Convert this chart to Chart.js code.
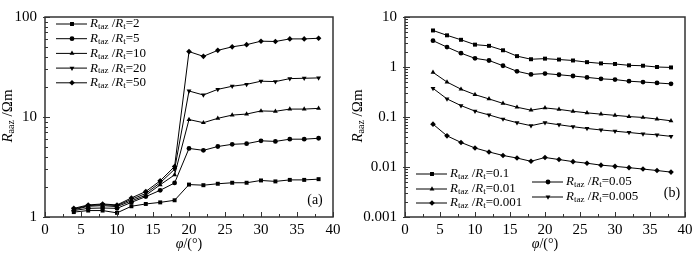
<!DOCTYPE html>
<html>
<head>
<meta charset="utf-8">
<script src="https://cdn.jsdelivr.net/npm/chart.js@4/dist/chart.umd.min.js"></script>
<style>
body { margin: 0; background: #fff; }
#wrap { position: relative; width: 700px; height: 253px; }
canvas { position: absolute; top: 0; }
#chartA { left: 0; }
#chartB { left: 350px; }
</style>
</head>
<body>
<div id="wrap">
  <canvas id="chartA" width="350" height="253"></canvas>
  <canvas id="chartB" width="350" height="253"></canvas>
</div>
<script>
// shared x values (angle, degrees)
const phi = [4, 6, 8, 10, 12, 14, 16, 18, 20, 22, 24, 26, 28, 30, 32, 34, 36, 38];
const xTicks = [0, 5, 10, 15, 20, 25, 30, 35, 40];
const yTicksA = [1, 10, 100];
const yTicksB = [0.001, 0.01, 0.1, 1, 10];

// panel (a): Rtaz/Rt = 2, 5, 10, 20, 50
const ratiosA = ["2", "5", "10", "20", "50"];
const a2  = [1.12, 1.16, 1.16, 1.10, 1.28, 1.35, 1.40, 1.47, 2.11, 2.08, 2.15, 2.20, 2.20, 2.32, 2.27, 2.35, 2.35, 2.39];
const a5  = [1.16, 1.22, 1.23, 1.22, 1.40, 1.60, 1.85, 2.19, 4.85, 4.64, 5.07, 5.33, 5.41, 5.78, 5.70, 6.00, 6.00, 6.13];
const a10 = [1.18, 1.28, 1.30, 1.27, 1.45, 1.65, 2.10, 2.64, 9.43, 8.77, 9.70, 10.45, 10.7, 11.5, 11.4, 12.0, 12.0, 12.2];
const a20 = [1.20, 1.30, 1.33, 1.30, 1.50, 1.72, 2.20, 3.00, 18.2, 16.6, 18.9, 20.3, 21.2, 22.8, 22.6, 24.2, 24.4, 24.6];
const a50 = [1.22, 1.32, 1.35, 1.32, 1.55, 1.80, 2.30, 3.20, 45.1, 40.4, 46.4, 50.3, 52.9, 57.3, 56.9, 60.4, 60.4, 61.3];

// panel (b): Rtaz/Rt = 0.1, 0.05, 0.01, 0.005, 0.001
const ratiosB = ["0.1", "0.05", "0.01", "0.005", "0.001"];
const b01   = [5.38, 4.30, 3.50, 2.80, 2.65, 2.16, 1.65, 1.43, 1.47, 1.41, 1.35, 1.25, 1.18, 1.15, 1.08, 1.06, 1.00, 0.98];
const b005  = [3.36, 2.50, 1.89, 1.49, 1.35, 1.06, 0.82, 0.71, 0.74, 0.70, 0.66, 0.62, 0.58, 0.56, 0.52, 0.50, 0.48, 0.46];
const b001  = [0.78, 0.50, 0.36, 0.28, 0.23, 0.187, 0.157, 0.137, 0.152, 0.142, 0.130, 0.121, 0.114, 0.108, 0.102, 0.098, 0.091, 0.084];
const b0005 = [0.374, 0.23, 0.169, 0.131, 0.110, 0.091, 0.077, 0.067, 0.077, 0.070, 0.064, 0.059, 0.055, 0.052, 0.049, 0.046, 0.044, 0.041];
const b0001 = [0.072, 0.042, 0.031, 0.024, 0.020, 0.017, 0.0151, 0.013, 0.0155, 0.0141, 0.0128, 0.0119, 0.0109, 0.0103, 0.0097, 0.0091, 0.0085, 0.0079];

const markers = [
  { pointStyle: "rect", rotation: 0 },
  { pointStyle: "circle", rotation: 0 },
  { pointStyle: "triangle", rotation: 0 },
  { pointStyle: "triangle", rotation: 180 },
  { pointStyle: "rectRot", rotation: 0 }
];

const SERIF = "'Liberation Serif', 'DejaVu Serif', serif";

const makeSet = (values, m) => ({
  data: values.map((v, i) => ({ x: phi[i], y: v })),
  borderColor: "#000",
  backgroundColor: "#000",
  borderWidth: 1,
  pointStyle: m.pointStyle,
  rotation: m.rotation,
  pointRadius: m.pointStyle === "circle" ? 2.4 : 2.8,
  pointBorderWidth: 0,
  tension: 0
});

// draw a run of text pieces, some as subscripts
const drawPieces = (ctx, x, y, pieces) => {
  ctx.textBaseline = "middle";
  ctx.textAlign = "left";
  pieces.forEach(p => {
    ctx.font = p.font;
    ctx.fillText(p.t, x, y + (p.dy || 0));
    x += ctx.measureText(p.t).width;
  });
  return x;
};

const ratioLabel = (ratio) => [
  { t: "R", font: "italic 13px " + SERIF },
  { t: "taz", font: "9px " + SERIF, dy: 3 },
  { t: " /", font: "13px " + SERIF },
  { t: "R", font: "italic 13px " + SERIF },
  { t: "t", font: "9px " + SERIF, dy: 3 },
  { t: "=" + ratio, font: "13px " + SERIF }
];

const drawLegendEntry = (ctx, x, y, m, ratio) => {
  ctx.save();
  ctx.strokeStyle = "#000";
  ctx.fillStyle = "#000";
  ctx.lineWidth = 1;
  ctx.beginPath();
  ctx.moveTo(x, y);
  ctx.lineTo(x + 31, y);
  ctx.stroke();
  Chart.helpers.drawPoint(ctx, {
    pointStyle: m.pointStyle, rotation: m.rotation,
    radius: m.pointStyle === "circle" ? 2.4 : 2.8, borderWidth: 0
  }, x + 16, y);
  ctx.fillStyle = "#000";
  drawPieces(ctx, x + 34, y, ratioLabel(ratio));
  ctx.restore();
};

// frame, inward ticks, axis titles, legend and panel label
const decorPlugin = {
  id: "decor",
  afterDraw(chart) {
    const ctx = chart.ctx;
    const { left, right, top, bottom } = chart.chartArea;
    const xs = chart.scales.x, ys = chart.scales.y;
    const cfg = chart.options.plugins.decor;
    ctx.save();
    ctx.strokeStyle = "#333";
    ctx.lineWidth = 1;
    // x ticks every 2.5
    for (let v = 0; v <= 40; v += 2.5) {
      const px = Math.round(xs.getPixelForValue(v)) + 0.5;
      const len = v % 5 === 0 ? 5 : 3;
      ctx.beginPath();
      ctx.moveTo(px, bottom);
      ctx.lineTo(px, bottom - len);
      ctx.stroke();
    }
    // log y ticks
    for (let k = Math.round(Math.log10(ys.min)); k < Math.round(Math.log10(ys.max)); k++) {
      for (let m = 1; m <= 10; m++) {
        const v = m * Math.pow(10, k);
        const py = Math.round(ys.getPixelForValue(v)) + 0.5;
        const major = m === 1 || m === 10;
        ctx.beginPath();
        ctx.moveTo(major ? left - 2 : left, py);
        ctx.lineTo(left + (major ? 5 : 3), py);
        ctx.stroke();
      }
    }
    ctx.lineWidth = 1.5;
    ctx.strokeStyle = "#333";
    ctx.strokeRect(left, top, right - left, bottom - top);

    ctx.fillStyle = "#000";
    // y axis title
    ctx.save();
    ctx.translate(cfg.yTitleX, cfg.yTitleY);
    ctx.rotate(-Math.PI / 2);
    const yPieces = [
      { t: "R", font: "italic 15px " + SERIF },
      { t: "aaz", font: "10px " + SERIF, dy: 3 },
      { t: " /\u03A9m", font: "15px " + SERIF }
    ];
    let w = 0;
    yPieces.forEach(p => { ctx.font = p.font; w += ctx.measureText(p.t).width; });
    drawPieces(ctx, -w / 2, 0, yPieces);
    ctx.restore();

    // x axis title
    const xPieces = [
      { t: "\u03C6", font: "italic 14px " + SERIF },
      { t: "/(\u00B0)", font: "14px " + SERIF }
    ];
    w = 0;
    xPieces.forEach(p => { ctx.font = p.font; w += ctx.measureText(p.t).width; });
    drawPieces(ctx, (left + right) / 2 - w / 2, 244, xPieces);

    // panel label
    ctx.font = "14px " + SERIF;
    ctx.textAlign = "center";
    ctx.textBaseline = "middle";
    ctx.fillText(cfg.panel, cfg.panelX, cfg.panelY);

    cfg.legend.forEach(e => drawLegendEntry(ctx, e.x, e.y, markers[e.m], e.ratio));
    ctx.restore();
  }
};

const makeOptions = (yMin, yMax, yTicks, yWidth, pad, decor) => ({
  responsive: false,
  animation: false,
  devicePixelRatio: 1,
  layout: { padding: pad },
  plugins: { legend: { display: false }, tooltip: { enabled: false }, decor: decor },
  scales: {
    x: {
      type: "linear",
      min: 0, max: 40,
      afterBuildTicks: axis => { axis.ticks = xTicks.map(v => ({ value: v })); },
      afterFit: axis => { axis.height = 36; },
      grid: { display: false, drawTicks: false },
      border: { display: false },
      ticks: { color: "#000", padding: 4, font: { family: SERIF, size: 15 } }
    },
    y: {
      type: "logarithmic",
      min: yMin, max: yMax,
      afterBuildTicks: axis => { axis.ticks = yTicks.map(v => ({ value: v })); },
      afterFit: axis => { axis.width = yWidth; },
      grid: { display: false, drawTicks: false },
      border: { display: false },
      ticks: {
        color: "#000", padding: 8, font: { family: SERIF, size: 15 },
        callback: v => String(v)
      }
    }
  }
});

new Chart(document.getElementById("chartA"), {
  type: "line",
  data: {
    datasets: [a2, a5, a10, a20, a50].map((s, i) => makeSet(s, markers[i]))
  },
  options: makeOptions(1, 100, yTicksA, 45, { left: 0, right: 17, top: 7, bottom: 0 }, {
    yTitleX: 8, yTitleY: 116, panel: "(a)", panelX: 315, panelY: 200,
    legend: ratiosA.map((r, i) => ({ x: 56, y: 24 + i * 14.7, m: i, ratio: r }))
  }),
  plugins: [decorPlugin]
});

new Chart(document.getElementById("chartB"), {
  type: "line",
  data: {
    datasets: [b01, b005, b001, b0005, b0001].map((s, i) => makeSet(s, markers[i]))
  },
  options: makeOptions(0.001, 10, yTicksB, 55, { left: 0, right: 15, top: 9, bottom: 0 }, {
    yTitleX: 8, yTitleY: 116, panel: "(b)", panelX: 322, panelY: 193,
    legend: [
      { x: 66, y: 174, m: 0, ratio: ratiosB[0] },
      { x: 66, y: 189, m: 2, ratio: ratiosB[2] },
      { x: 66, y: 203, m: 4, ratio: ratiosB[4] },
      { x: 182, y: 182, m: 1, ratio: ratiosB[1] },
      { x: 182, y: 197, m: 3, ratio: ratiosB[3] }
    ]
  }),
  plugins: [decorPlugin]
});
</script>
</body>
</html>
